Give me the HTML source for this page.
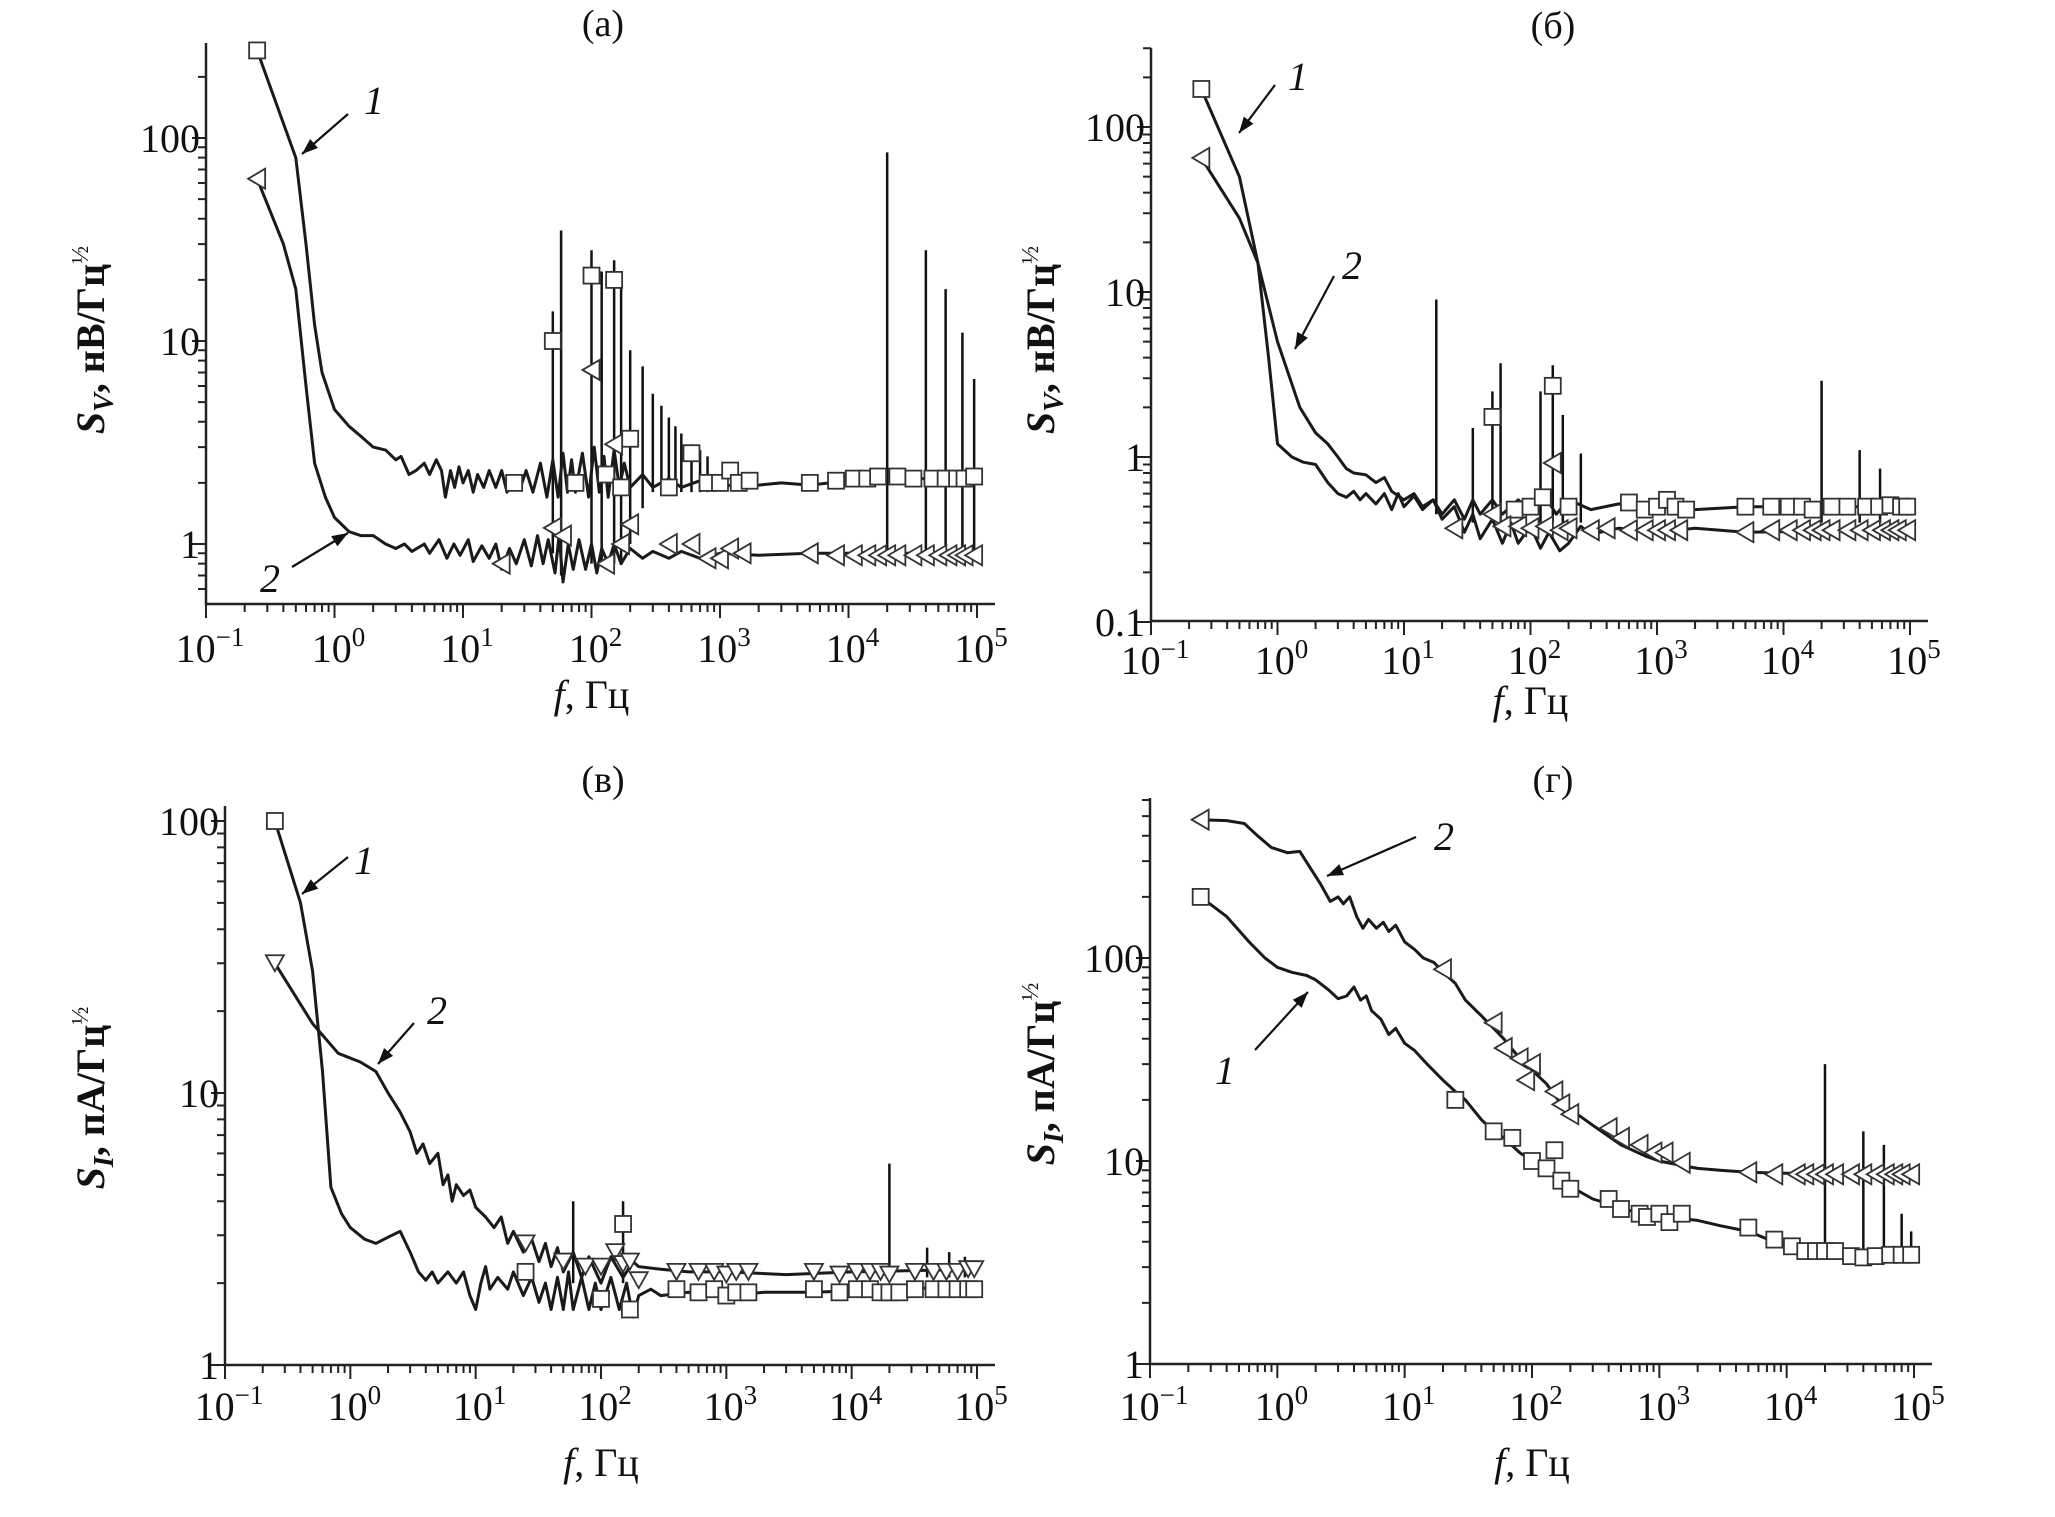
<!DOCTYPE html>
<html><head><meta charset="utf-8"><style>
html,body{margin:0;padding:0;background:#fff}
svg{display:block}
text{font-family:"Liberation Serif",serif;fill:#111}
</style></head><body>
<svg id="fig" width="2055" height="1517" viewBox="0 0 2055 1517" xmlns="http://www.w3.org/2000/svg">
<rect width="2055" height="1517" fill="#fff"/>
</svg>
<script>
// ---------- data (f in Hz, value) ----------
const xTickExp=[-1,0,1,2,3,4,5];
const A1=[[0.25,270],[0.5,80],[0.6,30],[0.7,12],[0.8,7],[1,4.6],[1.3,3.8],[1.6,3.4],[2,3.0],[2.5,2.9],[3,2.6],[3.3,2.7],[3.8,2.2],[4.3,2.3],[5,2.5],[5.5,2.2],[6.2,2.6],[6.8,2.3],[7.3,1.7],[8,2.3],[8.6,1.9],[9.3,2.4],[10,2.0],[11,2.3],[12,1.8],[13,2.2],[14.5,1.9],[16,2.3],[18,1.9],[20,2.3],[22,1.8],[25,2.1],[28,1.9],[31,2.3],[35,1.8],[40,2.5],[45,1.7],[50,2.6],[55,1.7],[60,2.8],[65,1.8],[70,2.6],[75,1.8],[85,2.8],[95,1.7],[105,3.0],[115,1.8],[125,2.7],[135,1.7],[150,2.9],[165,1.9],[180,2.5],[200,1.9],[250,2.2],[300,1.9],[400,2.1],[500,1.9],[700,2.05],[1000,1.9],[1500,2.0],[2000,1.95],[3000,2.0],[5000,1.95],[10000,2.05],[30000,2.1],[100000,2.1]];
const A2=[[0.25,63],[0.4,30],[0.5,18],[0.6,6],[0.7,2.5],[0.85,1.7],[1,1.35],[1.3,1.15],[1.6,1.1],[2,1.1],[2.5,1.0],[3,0.95],[3.5,1.0],[4,0.92],[5,1.0],[5.5,0.9],[6.5,1.05],[7.5,0.85],[8.5,1.0],[9.5,0.88],[11,1.05],[12,0.82],[14,0.98],[16,0.85],[18,1.0],[20,0.75],[23,0.95],[26,0.8],[30,1.05],[34,0.78],[38,1.1],[42,0.8],[46,1.05],[52,0.72],[56,1.1],[60,0.65],[66,1.0],[72,0.75],[80,1.05],[90,0.75],[100,1.0],[110,0.72],[120,0.95],[135,0.8],[150,1.0],[170,0.8],[200,0.95],[250,0.85],[300,0.92],[400,0.85],[500,0.92],[700,0.85],[1000,0.9],[2000,0.88],[5000,0.9],[100000,0.9]];
const spikesA=[[50,0.9,14],[58,0.7,35],[100,0.8,28],[120,0.8,22],[150,0.8,25],[170,0.8,22],[200,1.0,9],[250,1.5,7.5],[300,1.8,5.5],[350,1.8,4.8],[400,1.8,4.2],[450,1.8,3.8],[500,1.8,3.5],[600,1.8,3.1],[700,1.8,2.9],[800,1.8,2.7],[20000,0.85,85],[40000,0.85,28],[57000,0.85,18],[77000,0.85,11],[95000,0.85,6.5]];
const mkA1=[[0.25,270],[25,2],[50,10],[75,2],[100,21],[130,2.2],[150,20],[170,1.9],[200,3.3],[400,1.9],[600,2.8],[800,2],[1000,2],[1200,2.3],[1400,2],[1700,2.05],[5000,2],[8000,2.05],[11000,2.1],[14000,2.1],[17000,2.15],[24000,2.15],[32000,2.1],[45000,2.1],[57000,2.1],[70000,2.1],[80000,2.1],[95000,2.15]];
const mkA2=[[0.25,63],[20,0.8],[50,1.2],[60,1.1],[100,7.2],[130,0.8],[150,3.1],[170,1],[200,1.25],[400,1],[600,1],[800,0.85],[1000,0.85],[1200,0.95],[1500,0.9],[5000,0.9],[8000,0.88],[11000,0.88],[14000,0.88],[17000,0.88],[20000,0.88],[24000,0.88],[32000,0.88],[40000,0.88],[50000,0.88],[60000,0.88],[70000,0.88],[80000,0.88],[95000,0.88]];

const B1=[[0.25,170],[0.5,50],[0.7,15],[0.85,4],[1,1.2],[1.3,1.0],[1.6,0.93],[2,0.9],[2.5,0.7],[3,0.6],[3.5,0.57],[4,0.62],[4.5,0.55],[5,0.6],[6,0.52],[7,0.6],[8,0.48],[9,0.6],[10,0.5],[12,0.58],[14,0.48],[17,0.55],[20,0.45],[25,0.55],[30,0.42],[35,0.55],[40,0.45],[50,0.55],[60,0.45],[80,0.55],[100,0.47],[130,0.58],[160,0.45],[200,0.55],[300,0.48],[500,0.52],[1000,0.5],[2000,0.48],[5000,0.5],[100000,0.5]];
const B2=[[0.25,65],[0.5,28],[0.7,15],[1,5],[1.5,2],[2,1.4],[2.5,1.2],[3,1.0],[3.5,0.85],[4,0.8],[5,0.78],[6,0.7],[7,0.75],[8,0.62],[10,0.55],[12,0.6],[14,0.5],[17,0.55],[20,0.42],[25,0.5],[30,0.35],[35,0.45],[40,0.32],[50,0.42],[60,0.3],[70,0.4],[80,0.3],[100,0.38],[120,0.28],[140,0.35],[170,0.27],[200,0.3],[250,0.38],[300,0.34],[500,0.37],[1000,0.35],[2000,0.37],[5000,0.35],[100000,0.36]];
const spikesB=[[18,0.45,9],[35,0.4,1.5],[50,0.4,2.5],[58,0.4,3.7],[120,0.4,2.5],[150,0.4,3.6],[180,0.4,1.8],[250,0.4,1.05],[20000,0.4,2.9],[40000,0.4,1.1],[58000,0.4,0.85]];
const mkB1=[[0.25,170],[50,1.75],[75,0.48],[100,0.5],[125,0.57],[150,2.7],[200,0.5],[600,0.53],[800,0.48],[1000,0.5],[1200,0.55],[1400,0.5],[1700,0.48],[5000,0.5],[8000,0.5],[11000,0.5],[14000,0.5],[17000,0.48],[24000,0.5],[32000,0.5],[45000,0.5],[57000,0.5],[70000,0.51],[85000,0.5],[95000,0.5]];
const mkB2=[[0.25,65],[150,0.92],[25,0.37],[50,0.45],[60,0.38],[80,0.38],[100,0.37],[130,0.38],[170,0.36],[200,0.37],[300,0.36],[400,0.37],[600,0.36],[800,0.36],[1000,0.36],[1200,0.36],[1500,0.36],[5000,0.35],[8000,0.36],[11000,0.36],[14000,0.36],[17000,0.36],[20000,0.36],[24000,0.36],[32000,0.36],[40000,0.36],[50000,0.36],[60000,0.36],[70000,0.36],[80000,0.36],[95000,0.36]];

const C1=[[0.25,100],[0.4,50],[0.5,28],[0.6,12],[0.7,4.5],[0.85,3.6],[1,3.2],[1.3,2.9],[1.6,2.8],[2,2.95],[2.5,3.1],[3,2.6],[3.5,2.2],[4,2.05],[4.5,2.2],[5,2.0],[6,2.2],[7,2.0],[8,2.2],[9,1.8],[10,1.6],[11,2.0],[12,2.3],[13,1.9],[15,2.1],[18,1.9],[20,2.2],[24,1.8],[28,2.1],[32,1.7],[36,2.0],[40,1.6],[45,2.1],[50,1.6],[55,2.2],[60,1.6],[70,2.1],[80,1.6],[90,2.0],[100,1.6],[120,2.1],[140,1.6],[160,2.0],[180,1.5],[200,1.8],[250,1.9],[300,1.8],[500,1.85],[1000,1.8],[2000,1.85],[5000,1.85],[100000,1.95]];
const C2=[[0.25,30],[0.5,18],[0.8,14],[1.2,13],[1.6,12],[2,10],[2.5,8.5],[3,7.2],[3.4,6],[3.8,6.5],[4.3,5.5],[5,6],[5.5,4.6],[6,5],[6.5,4.0],[7,4.6],[8,4.2],[9,4.4],[10,3.8],[12,3.5],[14,3.2],[16,3.5],[18,2.8],[20,3.1],[24,2.6],[28,2.9],[32,2.4],[36,2.8],[40,2.3],[45,2.7],[50,2.2],[60,2.6],[70,2.1],[80,2.5],[100,2.0],[120,2.5],[150,2.1],[180,2.4],[200,2.3],[300,2.25],[500,2.2],[1000,2.2],[3000,2.15],[10000,2.2],[100000,2.25]];
const spikesC=[[60,2,4],[150,2,4],[20000,2.1,5.5],[40000,2.1,2.7],[60000,2.1,2.6],[80000,2.1,2.5]];
const mkC1=[[0.25,100],[25,2.2],[100,1.75],[150,3.3],[170,1.6],[400,1.9],[600,1.85],[800,1.9],[1000,1.8],[1200,1.85],[1500,1.85],[5000,1.9],[8000,1.85],[11000,1.9],[14000,1.9],[17000,1.85],[20000,1.85],[24000,1.85],[32000,1.9],[45000,1.9],[57000,1.9],[70000,1.9],[85000,1.9],[95000,1.9]];
const mkC2=[[0.25,30],[25,2.8],[50,2.4],[75,2.3],[100,2.3],[130,2.6],[150,2.35],[170,2.4],[200,2.05],[400,2.2],[600,2.2],[800,2.2],[1000,2.15],[1200,2.2],[1500,2.2],[5000,2.2],[8000,2.15],[11000,2.2],[14000,2.2],[17000,2.2],[20000,2.15],[32000,2.2],[45000,2.2],[57000,2.2],[70000,2.2],[85000,2.25],[95000,2.25]];

const D1=[[0.25,200],[0.4,160],[0.6,120],[0.8,100],[1,90],[1.3,85],[1.7,82],[2,78],[2.5,70],[3,63],[3.5,65],[4,72],[4.5,62],[5,65],[5.5,55],[6.5,50],[7.5,42],[8.5,45],[10,38],[12,35],[15,30],[20,25],[25,22],[30,20],[40,16],[50,14],[60,13],[80,11],[100,10],[130,9],[160,8],[200,7.5],[300,6.5],[500,5.9],[700,5.5],[1000,5.4],[1500,5.2],[2000,5.1],[3000,4.8],[5000,4.5],[8000,4.0],[12000,3.8],[20000,3.6],[40000,3.5],[100000,3.5]];
const D2=[[0.25,480],[0.4,475],[0.55,460],[0.7,400],[0.9,350],[1.2,330],[1.5,335],[1.8,280],[2.2,230],[2.6,190],[3,200],[3.3,185],[3.7,200],[4.2,160],[4.7,140],[5.2,155],[6,140],[6.8,150],[7.5,135],[8.5,145],[10,120],[12,110],[14,100],[17,95],[20,85],[25,75],[30,62],[40,52],[50,45],[60,40],[80,32],[100,28],[130,24],[160,20],[200,18],[300,15],[500,12],[800,10.5],[1000,10],[1500,9.5],[2000,9.2],[3000,9],[5000,8.8],[10000,8.7],[100000,8.6]];
const spikesD=[[20000,3.6,30],[40000,3.5,14],[58000,3.5,12],[80000,3.5,5.5],[95000,3.5,4.5]];
const mkD1=[[0.25,200],[25,20],[50,14],[70,13],[100,10],[130,9.2],[150,11.3],[170,8],[200,7.3],[400,6.5],[500,5.8],[700,5.5],[800,5.3],[1000,5.5],[1200,5],[1500,5.5],[5000,4.7],[8000,4.1],[11000,3.8],[14000,3.6],[17000,3.6],[20000,3.6],[24000,3.6],[32000,3.4],[40000,3.35],[50000,3.4],[65000,3.45],[80000,3.45],[95000,3.45]];
const mkD2=[[0.25,480],[20,88],[50,48],[60,36],[80,32],[90,25],[100,30],[150,22],[170,19],[200,17],[400,14.5],[500,13],[700,12],[900,11],[1100,11],[1500,9.8],[5000,8.8],[8000,8.6],[12000,8.6],[14000,8.6],[17000,8.6],[20000,8.6],[24000,8.6],[32000,8.6],[40000,8.6],[50000,8.6],[60000,8.6],[70000,8.6],[80000,8.6],[95000,8.6]];

// ---------- rendering ----------
const NS='http://www.w3.org/2000/svg';
const fig=document.getElementById('fig');
function mk(tag,attrs,parent){const e=document.createElementNS(NS,tag);for(const k in attrs)e.setAttribute(k,attrs[k]);(parent||fig).appendChild(e);return e;}

function panel(p){
  const g=mk('g',{});
  
  
  const X=f=>p.x0+(Math.log10(f)+1)*(p.x1-p.x0)/6;
  const Y=v=>p.y1-p.dec*Math.log10(v);
  const ax=mk('path',{d:`M${p.x0},${p.top}V${p.bottom}H${p.x1+18}`,stroke:'#222','stroke-width':2.5,fill:'none'},g);
  
  
  let d='';
  for(let e=-1;e<=5;e++){const x=X(Math.pow(10,e));d+=`M${x},${p.bottom}v14`;if(e<5)for(let m=2;m<=9;m++){d+=`M${X(m*Math.pow(10,e))},${p.bottom}v8`;}}
  const ymin=Math.log10(p.vmin),ymax=Math.log10(p.vmax);
  for(let e=Math.floor(ymin);e<=Math.ceil(ymax);e++){for(let m=1;m<=9;m++){const v=m*Math.pow(10,e);const lv=Math.log10(v);if(lv<ymin-1e-6||lv>ymax+1e-6)continue;d+=`M${p.x0},${Y(v)}h${m==1?-14:-8}`;}}
  const tk=mk('path',{d:d,stroke:'#222','stroke-width':2,fill:'none'},g);
  
  
  xTickExp.forEach(e=>{
    const t=mk('text',{x:X(Math.pow(10,e))+4,y:p.lab,'text-anchor':'middle','font-size':40},g);
    
    
    t.appendChild(document.createTextNode('10'));
    const s=mk('tspan',{dy:-16,'font-size':27},t);s.textContent=(e<0?'\u2212':'')+Math.abs(e);
  });
  p.yt.forEach(v=>{
    const t=mk('text',{x:p.x0-6,y:Y(v)+14,'text-anchor':'end','font-size':40},g);
    
    
    t.textContent=String(v);
  });
  const tt=mk('text',{x:p.tx,y:p.ty,'text-anchor':'middle','font-size':38},g);
  
  
  tt.textContent=p.title;
  const xl=mk('text',{x:(p.x0+p.x1)/2,y:p.xl,'text-anchor':'middle','font-size':40},g);
  
  
  const fi=mk('tspan',{'font-style':'italic'},xl);fi.textContent='f';
  xl.appendChild(document.createTextNode(', Гц'));
  const yl=mk('text',{x:0,y:0,'text-anchor':'middle','font-size':40,'font-weight':'bold',transform:`translate(${p.ylx},${p.yly}) rotate(-90)`},g);
  
  
  const s1=mk('tspan',{'font-style':'italic'},yl);s1.textContent='S';
  const s2=mk('tspan',{'font-style':'italic','font-size':28,dy:9},yl);s2.textContent=p.sub;
  const s3=mk('tspan',{dy:-9},yl);s3.textContent=', '+p.unit;
  const s4=mk('tspan',{'font-size':24,dy:-16,'font-weight':'normal'},yl);s4.textContent='½';
  let sd='';p.spikes.forEach(s=>{sd+=`M${X(s[0])},${Y(s[1])}V${Y(s[2])}`;});
  const sp=mk('path',{d:sd,stroke:'#111','stroke-width':2.5,fill:'none'},g);
  
  
  p.curves.forEach((c,i)=>{
    const pl=mk('polyline',{points:c.data.map(q=>X(q[0]).toFixed(1)+','+Y(q[1]).toFixed(1)).join(' '),stroke:'#1a1a1a','stroke-width':3,fill:'none','stroke-linejoin':'round'},g);
    
    
  });
  p.curves.forEach((c,i)=>{
    c.mk.forEach(q=>{
      const x=X(q[0]),y=Y(q[1]);let m;
      if(c.shape==='sq')m=mk('rect',{x:x-8,y:y-8,width:16,height:16,fill:'#fff',stroke:'#333','stroke-width':1.8},g);
      else if(c.shape==='lt')m=mk('path',{d:`M${x-9},${y}L${x+8},${y-10}L${x+8},${y+10}Z`,fill:'#fff',stroke:'#333','stroke-width':1.8},g);
      else m=mk('path',{d:`M${x-9},${y-8}L${x+9},${y-8}L${x},${y+8}Z`,fill:'#fff',stroke:'#333','stroke-width':1.8},g);
      
      
    });
  });
  p.ann.forEach(a=>{
    const l=mk('path',{d:`M${a.fx},${a.fy}L${a.tx},${a.ty}`,stroke:'#111','stroke-width':2.2,fill:'none'},g);
    
    
    const ang=Math.atan2(a.ty-a.fy,a.tx-a.fx),L=16,W=6;
    const bx=a.tx-L*Math.cos(ang),by=a.ty-L*Math.sin(ang);
    const h=mk('path',{d:`M${a.tx},${a.ty}L${bx+W*Math.sin(ang)},${by-W*Math.cos(ang)}L${bx-W*Math.sin(ang)},${by+W*Math.cos(ang)}Z`,fill:'#111'},g);
    
    
    const t=mk('text',{x:a.lx,y:a.ly,'text-anchor':'middle','font-size':40,'font-style':'italic'},g);
    
    
    t.textContent=a.t;
  });
}

panel({id:'a',title:'(a)',tx:603,ty:36,x0:206,x1:977,y1:544,dec:203,top:43,bottom:604,vmin:0.506,vmax:295,yt:[1,10,100],lab:662,xl:708,ylx:104,yly:340,sub:'V',unit:'нВ/Гц',
 spikes:spikesA,curves:[{data:A1,mk:mkA1,shape:'sq'},{data:A2,mk:mkA2,shape:'lt'}],
 ann:[{fx:348,fy:114,tx:302,ty:154,lx:374,ly:114,t:'1'},{fx:292,fy:567,tx:348,ty:533,lx:270,ly:592,t:'2'}]});
panel({id:'b',title:'(б)',tx:1553,ty:38,x0:1151,x1:1910,y1:457,dec:165,top:48,bottom:621,vmin:0.1,vmax:300,yt:[0.1,1,10,100],lab:674,xl:714,ylx:1054,yly:340,sub:'V',unit:'нВ/Гц',
 spikes:spikesB,curves:[{data:B1,mk:mkB1,shape:'sq'},{data:B2,mk:mkB2,shape:'lt'}],
 ann:[{fx:1275,fy:85,tx:1239,ty:133,lx:1298,ly:90,t:'1'},{fx:1334,fy:276,tx:1295,ty:349,lx:1352,ly:279,t:'2'}]});
panel({id:'v',title:'(в)',tx:603,ty:792,x0:225,x1:977,y1:1365,dec:272,top:806,bottom:1365,vmin:1,vmax:105,yt:[1,10,100],lab:1420,xl:1476,ylx:104,yly:1098,sub:'I',unit:'пА/Гц',
 spikes:spikesC,curves:[{data:C1,mk:mkC1,shape:'sq'},{data:C2,mk:mkC2,shape:'dt'}],
 ann:[{fx:348,fy:857,tx:302,ty:894,lx:364,ly:874,t:'1'},{fx:414,fy:1023,tx:378,ty:1064,lx:437,ly:1024,t:'2'}]});
panel({id:'g',title:'(г)',tx:1553,ty:792,x0:1150,x1:1914,y1:1364,dec:203,top:798,bottom:1364,vmin:1,vmax:620,yt:[1,10,100],lab:1420,xl:1476,ylx:1054,yly:1074,sub:'I',unit:'пА/Гц',
 spikes:spikesD,curves:[{data:D1,mk:mkD1,shape:'sq'},{data:D2,mk:mkD2,shape:'lt'}],
 ann:[{fx:1416,fy:837,tx:1327,ty:876,lx:1444,ly:850,t:'2'},{fx:1255,fy:1050,tx:1308,ty:992,lx:1225,ly:1084,t:'1'}]});
</script>
</body></html>
